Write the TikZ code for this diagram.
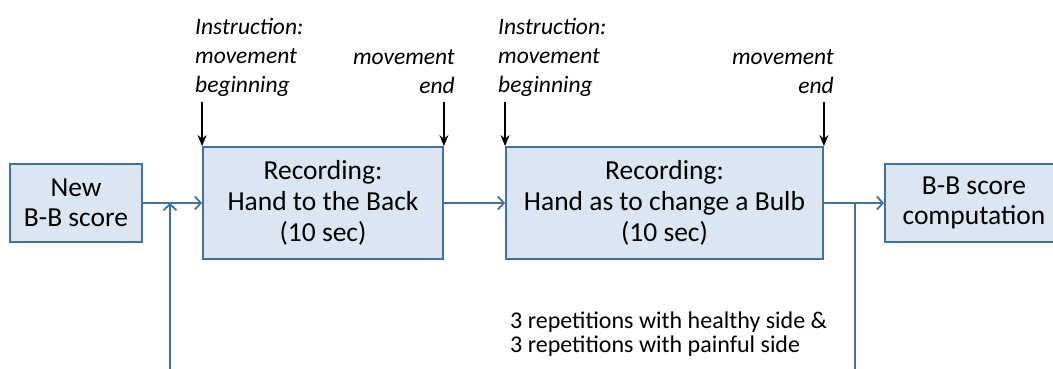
\documentclass[tikz,border=0pt]{standalone}
\usepackage{fontspec}
\setmainfont{Carlito}
\usepackage{tikz}
\usetikzlibrary{arrows.meta}

\definecolor{boxfill}{RGB}{220,230,242}
\definecolor{boxline}{RGB}{65,113,156}

\tikzset{
	recbox/.style={draw=boxline, fill=boxfill, line width=1.8pt, align=center,
		inner sep=0pt, font=\fontsize{27.5}{31}\selectfont},
	endbox/.style={recbox, font=\fontsize{27.5}{30}\selectfont},
	flow/.style={draw=boxline, line width=1.8pt, -{Straight Barb[length=6pt,width=13pt]}},
	cue/.style={black, line width=1.6pt, -{Stealth[length=11pt,width=9pt]}},
	cuetext/.style={inner sep=0pt, font=\fontsize{23.5}{29}\selectfont\itshape},
}

\begin{document}
\begin{tikzpicture}[x=1pt,y=-1pt]
	\useasboundingbox (0,0) rectangle (1053,369);

	%boxes
	\node[endbox, minimum width=132pt, minimum height=78pt]  (new)  at (76,203)    {New\\B-B score};
	\node[recbox, minimum width=240pt, minimum height=112pt] (back) at (323,203)   {Recording:\\Hand to the Back\\(10 sec)};
	\node[recbox, minimum width=317pt, minimum height=112pt] (bulb) at (664.5,203) {Recording:\\Hand as to change a Bulb\\(10 sec)};
	\node[endbox, minimum width=178pt, minimum height=78pt]  (comp) at (974,203)   {B-B score\\computation};

	%instructions (top)
	\node[cuetext, anchor=north west, align=left]  (begA) at (195,18) {Instruction:\\movement\\beginning};
	\node[cuetext, anchor=north east, align=right] (endA) at (455,49) {movement\\end};
	\node[cuetext, anchor=north west, align=left]  (begB) at (498,18) {Instruction:\\movement\\beginning};
	\node[cuetext, anchor=north east, align=right] (endB) at (834,49) {movement\\end};

	\node[inner sep=0pt, anchor=north west, align=left, font=\fontsize{24}{23.5}\selectfont]
		(reps) at (510,312) {3 repetitions with healthy side \&\\3 repetitions with painful side};

	%black arrows
	\draw[cue] ([yshift=44pt]back.north west) -- (back.north west);
	\draw[cue] ([yshift=44pt]back.north east) -- (back.north east);
	\draw[cue] ([yshift=44pt]bulb.north west) -- (bulb.north west);
	\draw[cue] ([yshift=44pt]bulb.north east) -- (bulb.north east);

	%main line
	\draw[flow] (new)  -- (back);
	\draw[flow] (back) -- (bulb);
	\draw[flow] (bulb) -- (comp);

	%loop back (bottom)
	\coordinate (outtop) at (855,203);
	\coordinate (outbot) at (855,369);
	\coordinate (inbot)  at (170,369);
	\coordinate (intop)  at (170,203);
	\draw[boxline, line width=1.8pt] (outtop) -- (outbot);
	\draw[flow] (inbot) -- (intop);
\end{tikzpicture}
\end{document}
